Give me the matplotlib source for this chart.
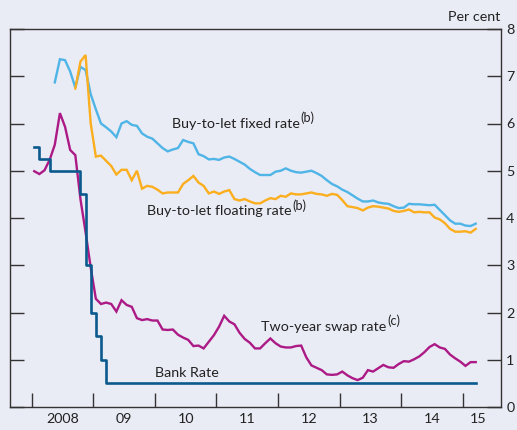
import numpy as np
import matplotlib
matplotlib.use("Agg")
import matplotlib.pyplot as plt

plt.rcParams['font.family'] = ['Lato', 'DejaVu Sans']

# Monthly data, January 2008 (month 0) to March 2015 (month 86)
n_months = 87
bank_rate = [5.5, 5.25, 5.25, 5.0, 5.0, 5.0, 5.0, 5.0, 5.0, 4.5, 3.0, 2.0, 1.5, 1.0] + [0.5] * (n_months - 14)

swap_rate = [4.99, 4.93, 5.01, 5.23, 5.55, 6.22, 5.93, 5.44, 5.33, 4.40,
             3.70, 2.95, 2.29, 2.18, 2.21, 2.18, 2.02, 2.26, 2.16, 2.12,
             1.88, 1.84, 1.86, 1.83, 1.83, 1.64, 1.63, 1.64, 1.53, 1.47,
             1.42, 1.29, 1.30, 1.24, 1.38, 1.52, 1.70, 1.93, 1.81, 1.75,
             1.57, 1.44, 1.36, 1.24, 1.24, 1.35, 1.45, 1.35, 1.28, 1.26,
             1.26, 1.29, 1.30, 1.05, 0.88, 0.83, 0.78, 0.69, 0.68, 0.69,
             0.75, 0.67, 0.61, 0.57, 0.62, 0.78, 0.75, 0.82, 0.89, 0.84,
             0.83, 0.91, 0.97, 0.96, 1.01, 1.07, 1.16, 1.27, 1.33, 1.26,
             1.23, 1.11, 1.03, 0.96, 0.87, 0.95, 0.95]

fixed_start = 4  # May 2008
fixed_rate = [6.87, 7.36, 7.34, 7.10, 6.76, 7.20, 7.13, 6.62, 6.30, 6.00,
              5.92, 5.83, 5.71, 6.00, 6.05, 5.97, 5.95, 5.79, 5.72, 5.68,
              5.58, 5.48, 5.41, 5.45, 5.48, 5.65, 5.61, 5.58, 5.35, 5.31,
              5.24, 5.25, 5.23, 5.28, 5.30, 5.25, 5.19, 5.13, 5.04, 4.97,
              4.91, 4.91, 4.91, 4.98, 5.00, 5.05, 5.00, 4.97, 4.96, 4.98,
              5.00, 4.95, 4.89, 4.80, 4.72, 4.67, 4.60, 4.55, 4.48, 4.41,
              4.35, 4.35, 4.37, 4.33, 4.31, 4.30, 4.25, 4.21, 4.22, 4.30,
              4.29, 4.29, 4.28, 4.27, 4.28, 4.17, 4.06, 3.95, 3.88, 3.88,
              3.84, 3.83, 3.88]

floating_start = 8  # September 2008
floating_rate = [6.74, 7.31, 7.45, 6.00, 5.30, 5.32, 5.21, 5.10, 4.92, 5.02,
                 5.02, 4.80, 5.00, 4.62, 4.68, 4.66, 4.60, 4.52, 4.54, 4.54,
                 4.54, 4.72, 4.80, 4.89, 4.75, 4.68, 4.52, 4.56, 4.51, 4.56,
                 4.59, 4.40, 4.37, 4.40, 4.35, 4.31, 4.31, 4.37, 4.42, 4.40,
                 4.47, 4.45, 4.52, 4.50, 4.50, 4.52, 4.54, 4.51, 4.50, 4.47,
                 4.51, 4.49, 4.38, 4.25, 4.23, 4.21, 4.16, 4.22, 4.25, 4.24,
                 4.22, 4.20, 4.15, 4.13, 4.15, 4.18, 4.12, 4.13, 4.12, 4.12,
                 4.01, 3.97, 3.89, 3.77, 3.71, 3.71, 3.72, 3.69, 3.77]

year_labels = ['2008', '09', '10', '11', '12', '13', '14', '15']
y_ticks = [0, 1, 2, 3, 4, 5, 6, 7, 8]

# month index -> decimal year (mid-month)
def to_year(m):
    return 2008 + (np.asarray(m) + 0.5) / 12.0

months = np.arange(n_months)
x_all = to_year(months)
x_fixed = to_year(np.arange(fixed_start, fixed_start + len(fixed_rate)))
x_float = to_year(np.arange(floating_start, floating_start + len(floating_rate)))

bg = '#e9ebf5'
c_bank = '#0b5a8e'
c_swap = '#ac1a86'
c_fixed = '#4fb5e6'
c_float = '#fbae1e'
c_axis = '#333333'
c_text = '#222222'
fs = 10.3

fig = plt.figure(figsize=(5.17, 4.30), dpi=100, facecolor=bg)
ax = fig.add_axes([10 / 517, 1 - 407 / 430, (500.7 - 10) / 517, (407 - 29) / 430])
ax.set_facecolor(bg)

ax.plot(x_fixed, fixed_rate, color=c_fixed, lw=1.7, solid_joinstyle='miter')
ax.plot(x_float, floating_rate, color=c_float, lw=1.7, solid_joinstyle='miter')
ax.plot(x_all, swap_rate, color=c_swap, lw=1.7, solid_joinstyle='miter')
ax.step(x_all, bank_rate, where='post', color=c_bank, lw=1.9)

ax.set_xlim(2007.648, 2015.614)
ax.set_ylim(0, 8)

for s in ax.spines.values():
    s.set_color(c_axis)
    s.set_linewidth(1.0)

ax.set_xticks(np.arange(2008, 2016))
ax.set_xticklabels([])
ax.set_xticks([2008.5, 2009.5, 2010.5, 2011.5, 2012.5, 2013.5, 2014.5, 2015.25], minor=True)
ax.set_xticklabels(year_labels, minor=True)
ax.tick_params(axis='x', which='major', direction='in', length=10, width=1.0, color=c_axis)
ax.tick_params(axis='x', which='minor', length=0, pad=4, labelsize=fs, labelcolor=c_text)

ax.set_yticks(y_ticks)
ax.yaxis.set_ticks_position('both')
ax.tick_params(axis='y', direction='in', length=10, width=1.0, color=c_axis,
               left=True, right=True, labelleft=False, labelright=True,
               labelsize=fs, labelcolor=c_text, pad=4)

ax.text(1.0, 1.015, 'Per cent', transform=ax.transAxes, ha='right', va='bottom',
        fontsize=fs, color=c_text)


def label(x, y, main, sup=None):
    t = ax.text(x, y, main, fontsize=fs, color=c_text, ha='left', va='center')
    if sup:
        ax.annotate(sup, xy=(1.0, 0.45), xycoords=t, xytext=(0.3, 0),
                    textcoords='offset points', fontsize=fs * 0.88,
                    color=c_text, ha='left', va='bottom')


label(2010.28, 6.0, 'Buy-to-let fixed rate', '(b)')
label(2009.88, 4.15, 'Buy-to-let floating rate', '(b)')
label(2011.73, 1.70, 'Two-year swap rate', '(c)')
label(2010.0, 0.73, 'Bank Rate')

fig.savefig('out.png', dpi=100, facecolor=bg)
